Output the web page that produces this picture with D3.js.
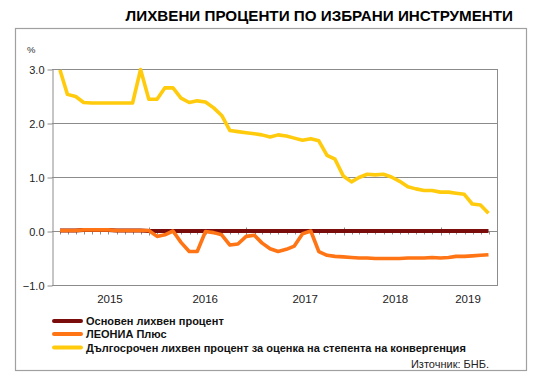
<!DOCTYPE html>
<html>
<head>
<meta charset="utf-8">
<script src="https://cdn.jsdelivr.net/npm/d3@7"></script>
<style>
  body { margin: 0; background: #fff; }
  text { font-family: "Liberation Sans", Arial, sans-serif; }
</style>
</head>
<body>
<div id="main"></div>
<script>
/* Size */
const width = 536, height = 378;

/* Data: monthly, Jan 2015 .. Jun 2019 (54 months) */
const firstMonth = "2015-01-01";
const seriesNames = ["Основен лихвен процент", "ЛЕОНИА Плюс",
  "Дългосрочен лихвен процент за оценка на степента на конвергенция"];
const baseRate = [0.01, 0.01, 0.01, 0.02, 0.02, 0.02, 0.02, 0.01, 0.01, 0.01, 0.01, 0.00,
  0, 0, 0, 0, 0, 0, 0, 0, 0, 0, 0, 0,
  0, 0, 0, 0, 0, 0, 0, 0, 0, 0, 0, 0,
  0, 0, 0, 0, 0, 0, 0, 0, 0, 0, 0, 0,
  0, 0, 0, 0, 0, 0];
const leonia = [0.01, 0.01, 0.01, 0.02, 0.02, 0.02, 0.02, 0.01, 0.01, 0.01, 0.01, 0.01,
  -0.10, -0.07, 0.00, -0.21, -0.38, -0.38, -0.01, -0.03, -0.07, -0.26, -0.24, -0.10,
  -0.08, -0.22, -0.33, -0.38, -0.34, -0.28, -0.05, 0.00, -0.38, -0.45, -0.47, -0.48,
  -0.49, -0.50, -0.50, -0.51, -0.51, -0.51, -0.51, -0.50, -0.50, -0.50, -0.49, -0.50,
  -0.49, -0.47, -0.47, -0.46, -0.45, -0.44];
const longTerm = [2.98, 2.53, 2.49, 2.38, 2.37, 2.37, 2.37, 2.37, 2.37, 2.37, 2.99, 2.44,
  2.44, 2.65, 2.65, 2.46, 2.38, 2.41, 2.39, 2.28, 2.14, 1.86, 1.84, 1.82,
  1.80, 1.78, 1.74, 1.78, 1.76, 1.72, 1.68, 1.71, 1.67, 1.40, 1.33, 1.02,
  0.91, 0.99, 1.05, 1.04, 1.05, 1.00, 0.92, 0.82, 0.78, 0.75, 0.75, 0.72,
  0.72, 0.70, 0.68, 0.50, 0.48, 0.33];
const yTicks = [3, 2, 1, 0, -1];
const yearLabels = ["2015", "2016", "2017", "2018", "2019"];
const yearLabelDates = ["2015-08-07", "2016-07-30", "2017-08-10", "2018-07-15", "2019-04-14"];
const colors = ["#7a0c0c", "#ff7414", "#ffcb0c"];

/* month-end dates for each point */
const start = new Date(firstMonth + "T00:00:00Z");
const dates = leonia.map((_, i) => d3.utcDay.offset(d3.utcMonth.offset(start, i + 1), -1));

const svg = d3.select("#main").append("svg")
  .attr("width", width).attr("height", height)
  .style("display", "block");

svg.append("rect").attr("width", width).attr("height", height).attr("fill", "#fff");

/* title */
svg.append("text")
  .attr("x", 513).attr("y", 21)
  .attr("text-anchor", "end")
  .style("font-size", "15.2px").style("font-weight", "bold").style("fill", "#000")
  .text("ЛИХВЕНИ ПРОЦЕНТИ ПО ИЗБРАНИ ИНСТРУМЕНТИ");

/* outer frame */
svg.append("rect")
  .attr("x", 15.5).attr("y", 28.5).attr("width", 511).attr("height", 342)
  .attr("fill", "none").attr("stroke", "#a0a0a0").attr("stroke-width", 1.2);

/* scales */
const pLeft = 52, pRight = 497, pTop = 69, pBottom = 285;
const x = d3.scaleUtc()
  .domain([start, new Date("2019-08-01T00:00:00Z")])
  .range([pLeft, pRight]);
const y = d3.scaleLinear().domain([-1, 3]).range([pBottom, pTop]);

/* grid */
const grid = svg.append("g");
grid.selectAll("line.h").data(yTicks).enter().append("line")
  .attr("x1", pLeft).attr("x2", pRight)
  .attr("y1", d => Math.round(y(d)) + 0.5).attr("y2", d => Math.round(y(d)) + 0.5)
  .attr("stroke", "#8c8c8c").attr("stroke-width", 1);
grid.append("line")
  .attr("x1", pRight + 0.5).attr("x2", pRight + 0.5)
  .attr("y1", y(3)).attr("y2", y(-1) + 1)
  .attr("stroke", "#8c8c8c");

/* y axis */
const yAxis = svg.append("g").attr("transform", `translate(${pLeft + 0.5},0.5)`)
  .call(d3.axisLeft(y).tickValues(yTicks).tickFormat(d3.format(".1f")).tickSize(5).tickSizeOuter(0));
yAxis.select(".domain").attr("stroke", "#8c8c8c");
yAxis.selectAll(".tick line").attr("stroke", "#8c8c8c");
yAxis.selectAll(".tick text")
  .attr("x", -8)
  .style("font-size", "11px").style("fill", "#222")
  .style("font-family", "'Liberation Sans', Arial, sans-serif");

svg.append("text").attr("x", 27).attr("y", 53)
  .style("font-size", "9.5px").style("fill", "#333").text("%");

/* x axis on zero line: monthly minor ticks, yearly major ticks */
const y0 = Math.round(y(0)) + 0.5;
const months = d3.utcMonth.range(d3.utcMonth.offset(start, 1), x.domain()[1]);
svg.append("g").selectAll("line").data(months).enter().append("line")
  .attr("x1", d => Math.round(x(d)) + 0.5).attr("x2", d => Math.round(x(d)) + 0.5)
  .attr("y1", y0).attr("y2", y0 + 3)
  .attr("stroke", "#8c8c8c");
const years = d3.utcYear.range(d3.utcYear.offset(start, 1), x.domain()[1]);
svg.append("g").selectAll("line").data(years).enter().append("line")
  .attr("x1", d => Math.round(x(d)) + 0.5).attr("x2", d => Math.round(x(d)) + 0.5)
  .attr("y1", y0 - 4).attr("y2", y0 + 4)
  .attr("stroke", "#8c8c8c");

svg.append("g").selectAll("text").data(yearLabels).enter().append("text")
  .attr("x", (d, i) => x(new Date(yearLabelDates[i] + "T00:00:00Z")))
  .attr("y", 303)
  .attr("text-anchor", "middle")
  .style("font-size", "11.5px").style("fill", "#222")
  .text(d => d);

/* lines */
const line = d3.line()
  .x((d, i) => x(dates[i]))
  .y(d => y(d));
const allSeries = [baseRate, leonia, longTerm];
svg.append("g").selectAll("path").data(allSeries).enter().append("path")
  .attr("d", d => line(d))
  .attr("fill", "none")
  .attr("stroke", (d, i) => colors[i])
  .attr("stroke-width", (d, i) => i === 0 ? 4 : 3.6)
  .attr("stroke-linejoin", "round");

/* legend */
const legendY = [321, 334, 347.5];
const lg = svg.append("g").selectAll("g").data(seriesNames).enter().append("g")
  .attr("transform", (d, i) => `translate(54,${legendY[i]})`);
lg.append("line")
  .attr("x1", 0).attr("x2", 27)
  .attr("stroke", (d, i) => colors[i]).attr("stroke-width", 4)
  .attr("stroke-linecap", "round");
lg.append("text")
  .attr("x", 32).attr("y", 4)
  .style("font-size", "11px").style("font-weight", "bold").style("fill", "#111")
  .text(d => d);

/* source */
svg.append("text")
  .attr("x", 489).attr("y", 368)
  .attr("text-anchor", "end")
  .style("font-size", "11px").style("fill", "#222")
  .text("Източник: БНБ.");
</script>
</body>
</html>
